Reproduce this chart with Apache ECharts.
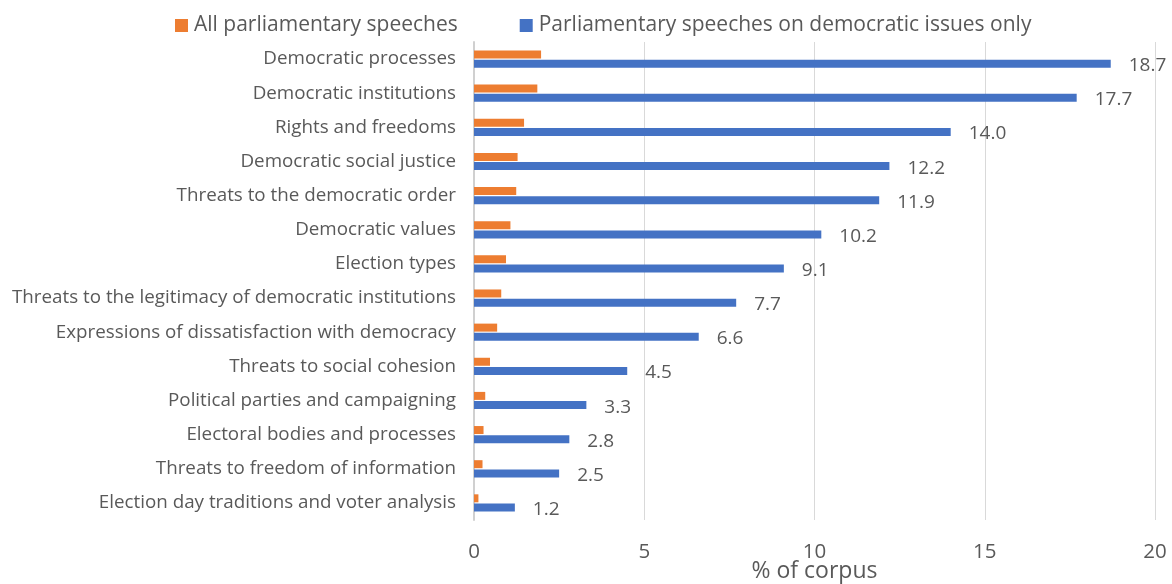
<!DOCTYPE html>
<html><head><meta charset="utf-8">
<script src="https://cdn.jsdelivr.net/npm/echarts@6/dist/echarts.min.js"></script>
<style>html,body{margin:0;padding:0;background:#fff}#c{width:1172px;height:584px}</style>
</head><body><div id="c"></div>
<script>
const categories = [
  "Democratic processes",
  "Democratic institutions",
  "Rights and freedoms",
  "Democratic social justice",
  "Threats to the democratic order",
  "Democratic values",
  "Election types",
  "Threats to the legitimacy of democratic institutions",
  "Expressions of dissatisfaction with democracy",
  "Threats to social cohesion",
  "Political parties and campaigning",
  "Electoral bodies and processes",
  "Threats to freedom of information",
  "Election day traditions and voter analysis"
];
const allSpeeches = [1.97, 1.86, 1.47, 1.28, 1.24, 1.07, 0.94, 0.80, 0.68, 0.47, 0.33, 0.28, 0.25, 0.13];
const democraticSpeeches = [18.7, 17.7, 14.0, 12.2, 11.9, 10.2, 9.1, 7.7, 6.6, 4.5, 3.3, 2.8, 2.5, 1.2];
const xTicks = [0, 5, 10, 15, 20];

const FONT = "Open Sans";
const TXT = "#595959";
const chart = echarts.init(document.getElementById('c'), null, {renderer: 'canvas'});
chart.setOption({
  animation: false,
  textStyle: {fontFamily: FONT},
  legend: {
    top: 15, left: 175, padding: 0,
    itemWidth: 13, itemHeight: 13, itemGap: 62,
    icon: 'rect',
    textStyle: {fontFamily: FONT, fontSize: 21, color: TXT, padding: [0,0,0,1]},
    data: ["All parliamentary speeches", "Parliamentary speeches on democratic issues only"]
  },
  grid: {left: 474, right: 17, top: 42, bottom: 64, containLabel: false, outerBoundsMode: 'none'},
  xAxis: {
    type: 'value', min: xTicks[0], max: xTicks[xTicks.length-1], interval: 5,
    name: '% of corpus', nameLocation: 'middle', nameGap: 40, nameMoveOverlap: false,
    nameTextStyle: {fontFamily: FONT, fontSize: 23, color: TXT},
    axisLine: {show: false}, axisTick: {show: false},
    axisLabel: {fontFamily: FONT, fontSize: 20.5, color: TXT, margin: 22},
    splitLine: {lineStyle: {color: '#d9d9d9', width: 1}}
  },
  yAxis: {
    type: 'category', data: categories, inverse: true,
    axisLine: {show: true, lineStyle: {color: '#d0d0d0', width: 2}},
    axisTick: {show: false},
    axisLabel: {fontFamily: FONT, fontSize: 18.8, color: TXT, margin: 18}
  },
  series: [
    {name: "All parliamentary speeches", type: 'bar', data: allSpeeches,
     barWidth: 8, barGap: '15%', itemStyle: {color: '#ED7D31'}},
    {name: "Parliamentary speeches on democratic issues only", type: 'bar', data: democraticSpeeches,
     barWidth: 8, itemStyle: {color: '#4472C4'},
     label: {show: true, position: 'right', distance: 18, offset: [0, 2], fontFamily: FONT, fontSize: 19, color: TXT,
             formatter: p => p.value.toFixed(1)}}
  ]
});
</script></body></html>
